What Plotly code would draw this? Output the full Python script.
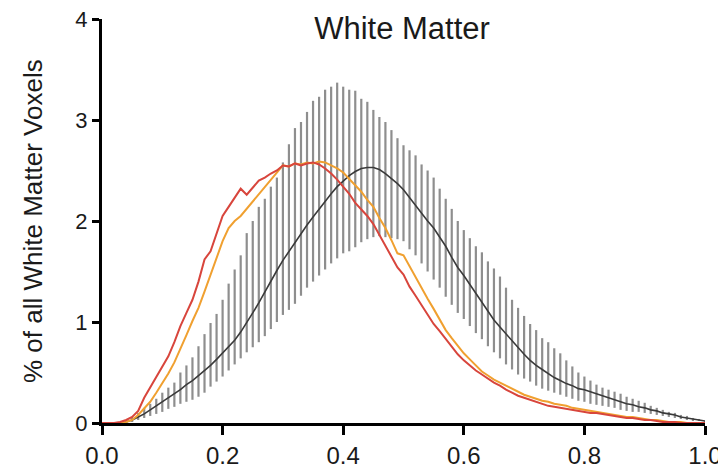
import plotly.graph_objects as go

# x positions of the bins (fraction)
x_vals = [round(i * 0.01, 2) for i in range(101)]

# Mean curve (black) with error-bar tops and bottoms (grey hatching)
mean_vals = [
    0, 0, 0, 0, 0.01, 0.03, 0.06, 0.09, 0.13, 0.17,
    0.21, 0.25, 0.29, 0.33, 0.38, 0.42, 0.47, 0.52, 0.57, 0.63,
    0.69, 0.75, 0.82, 0.90, 0.99, 1.09, 1.19, 1.30, 1.41, 1.51,
    1.61, 1.70, 1.79, 1.88, 1.96, 2.04, 2.12, 2.20, 2.27, 2.34,
    2.40, 2.45, 2.49, 2.52, 2.53, 2.53, 2.51, 2.47, 2.42, 2.37,
    2.31, 2.23, 2.15, 2.07, 2.00, 1.93, 1.84, 1.75, 1.64, 1.54,
    1.46, 1.37, 1.28, 1.19, 1.10, 1.02, 0.95, 0.88, 0.81, 0.74,
    0.68, 0.62, 0.57, 0.53, 0.49, 0.45, 0.42, 0.39, 0.37, 0.34,
    0.33, 0.31, 0.29, 0.27, 0.25, 0.23, 0.21, 0.19, 0.18, 0.16,
    0.15, 0.13, 0.12, 0.10, 0.09, 0.08, 0.06, 0.05, 0.04, 0.03,
    0.02,
]
bar_top = [
    0, 0, 0, 0.01, 0.03, 0.06, 0.10, 0.15, 0.19, 0.24,
    0.30, 0.35, 0.40, 0.50, 0.57, 0.65, 0.76, 0.88, 0.99, 1.08,
    1.22, 1.38, 1.52, 1.66, 1.88, 2.00, 2.14, 2.22, 2.34, 2.43,
    2.58, 2.76, 2.92, 2.98, 3.08, 3.19, 3.23, 3.30, 3.33, 3.37,
    3.33, 3.30, 3.29, 3.21, 3.18, 3.10, 3.03, 2.98, 2.90, 2.82,
    2.75, 2.70, 2.65, 2.56, 2.50, 2.43, 2.32, 2.22, 2.12, 2.00,
    1.91, 1.83, 1.75, 1.69, 1.60, 1.53, 1.45, 1.34, 1.22, 1.14,
    1.06, 0.98, 0.92, 0.84, 0.80, 0.74, 0.69, 0.62, 0.56, 0.50,
    0.46, 0.42, 0.38, 0.35, 0.33, 0.31, 0.29, 0.26, 0.24, 0.22,
    0.20, 0.17, 0.15, 0.13, 0.11, 0.10, 0.08, 0.07, 0.05, 0.04,
    0.02,
]
bar_bottom = [
    0, 0, 0, 0, 0, 0.01, 0.03, 0.05, 0.07, 0.09,
    0.11, 0.14, 0.16, 0.19, 0.21, 0.23, 0.26, 0.30, 0.36, 0.41,
    0.46, 0.52, 0.58, 0.64, 0.70, 0.75, 0.80, 0.86, 0.93, 1.00,
    1.07, 1.12, 1.18, 1.26, 1.34, 1.40, 1.46, 1.52, 1.58, 1.63,
    1.68, 1.70, 1.74, 1.79, 1.82, 1.84, 1.85, 1.84, 1.83, 1.82,
    1.80, 1.72, 1.66, 1.58, 1.50, 1.42, 1.34, 1.25, 1.17, 1.09,
    1.03, 0.96, 0.89, 0.83, 0.76, 0.70, 0.64, 0.58, 0.53, 0.48,
    0.44, 0.41, 0.37, 0.34, 0.32, 0.30, 0.28, 0.26, 0.24, 0.22,
    0.21, 0.19, 0.18, 0.17, 0.16, 0.15, 0.13, 0.12, 0.11, 0.11,
    0.10, 0.09, 0.08, 0.07, 0.06, 0.05, 0.04, 0.03, 0.02, 0.02,
    0.01,
]

# Red curve
red_vals = [
    0, 0, 0, 0.01, 0.03, 0.06, 0.12, 0.25, 0.35, 0.45,
    0.55, 0.66, 0.80, 0.96, 1.09, 1.22, 1.40, 1.62, 1.70, 1.88,
    2.05, 2.14, 2.23, 2.32, 2.26, 2.33, 2.40, 2.43, 2.47, 2.50,
    2.55, 2.54, 2.57, 2.55, 2.57, 2.58, 2.56, 2.52, 2.47, 2.41,
    2.34, 2.27, 2.18, 2.12, 2.05, 1.97, 1.86, 1.75, 1.64, 1.54,
    1.47, 1.35, 1.26, 1.17, 1.08, 0.98, 0.91, 0.83, 0.75, 0.68,
    0.62, 0.57, 0.52, 0.48, 0.44, 0.40, 0.37, 0.33, 0.30, 0.27,
    0.25, 0.23, 0.21, 0.19, 0.17, 0.16, 0.15, 0.14, 0.13, 0.12,
    0.11, 0.10, 0.10, 0.09, 0.08, 0.07, 0.06, 0.05, 0.05, 0.04,
    0.03, 0.03, 0.02, 0.01, 0.01, 0.01, 0, 0, 0, 0,
    0,
]

# Orange curve
orange_vals = [
    0, 0, 0, 0, 0.01, 0.03, 0.08, 0.14, 0.21, 0.30,
    0.39, 0.49, 0.60, 0.73, 0.87, 1.01, 1.14, 1.30, 1.46, 1.62,
    1.80, 1.93, 2.00, 2.05, 2.12, 2.20, 2.27, 2.33, 2.40, 2.48,
    2.55, 2.54, 2.57, 2.56, 2.58, 2.57, 2.59, 2.58, 2.55, 2.52,
    2.48, 2.42, 2.35, 2.29, 2.21, 2.14, 2.03, 1.93, 1.81, 1.68,
    1.66, 1.55, 1.44, 1.34, 1.23, 1.13, 1.02, 0.92, 0.84, 0.76,
    0.69, 0.63, 0.57, 0.51, 0.47, 0.43, 0.40, 0.37, 0.34, 0.31,
    0.28, 0.26, 0.24, 0.22, 0.21, 0.19, 0.18, 0.17, 0.15, 0.14,
    0.13, 0.12, 0.11, 0.10, 0.09, 0.08, 0.07, 0.06, 0.06, 0.05,
    0.04, 0.03, 0.03, 0.02, 0.01, 0.01, 0.01, 0, 0, 0,
    0,
]

x_ticks = [0.0, 0.2, 0.4, 0.6, 0.8, 1.0]
x_tick_labels = ["0.0", "0.2", "0.4", "0.6", "0.8", "1.0"]
y_ticks = [0, 1, 2, 3, 4]
y_tick_labels = ["0", "1", "2", "3", "4"]

err_plus = [t - m for t, m in zip(bar_top, mean_vals)]
err_minus = [m - b for m, b in zip(mean_vals, bar_bottom)]

FONT = "Liberation Sans, Arial, sans-serif"
# the page body adds an 8px offset; figure sized so it ends at the window edge
W, H = 718, 467
PLOT_L, PLOT_R, PLOT_T, PLOT_B = 94, 21, 11, 52
PLOT_W = W - PLOT_L - PLOT_R

fig = go.Figure()
fig.add_trace(go.Scatter(
    x=x_vals, y=mean_vals, mode="lines",
    line=dict(color="#3a3a3a", width=1.6),
    error_y=dict(type="data", symmetric=False, array=err_plus,
                 arrayminus=err_minus, width=0, thickness=2.2,
                 color="#8e8e8e"),
    showlegend=False, hoverinfo="skip",
))
fig.add_trace(go.Scatter(
    x=x_vals, y=orange_vals, mode="lines",
    line=dict(color="#f0a030", width=2),
    showlegend=False,
))
fig.add_trace(go.Scatter(
    x=x_vals, y=red_vals, mode="lines",
    line=dict(color="#d8453c", width=2),
    showlegend=False,
))

fig.update_layout(
    template="none",
    width=W, height=H,
    margin=dict(l=PLOT_L, r=PLOT_R, t=PLOT_T, b=PLOT_B, pad=0),
    paper_bgcolor="white", plot_bgcolor="white",
    font=dict(family=FONT, size=24, color="#1a1a1a"),
    title=dict(text="White Matter", x=394 / W, xanchor="center",
               y=1 - 20 / H, yanchor="middle", yref="container",
               font=dict(family=FONT, size=31, color="#1a1a1a")),
    annotations=[dict(
        text="% of all White Matter Voxels", textangle=-90,
        xref="paper", yref="paper",
        x=(25 - PLOT_L) / PLOT_W, y=0.5,
        xanchor="center", yanchor="middle", showarrow=False,
        font=dict(family=FONT, size=26, color="#1a1a1a"),
    )],
)
fig.update_xaxes(
    range=[0, 1], tickvals=x_ticks, ticktext=x_tick_labels,
    showgrid=False, zeroline=False, automargin=False,
    showline=True, linecolor="black", linewidth=3,
    ticks="outside", ticklen=9, tickwidth=3, tickcolor="black",
    tickfont=dict(size=24), ticklabeloverflow="allow",
)
fig.update_yaxes(
    range=[0, 4], tickvals=y_ticks, ticktext=y_tick_labels,
    showgrid=False, zeroline=False, automargin=False,
    showline=True, linecolor="black", linewidth=3,
    ticks="outside", ticklen=7, tickwidth=3, tickcolor="black",
    tickfont=dict(size=22), ticklabeloverflow="allow",
)

fig.write_html("out.html")
